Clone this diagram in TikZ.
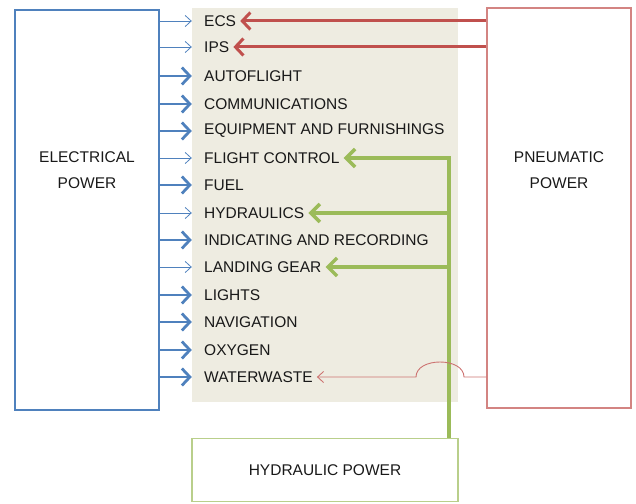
\documentclass[tikz,border=0pt]{standalone}
\usepackage{fontspec}
\setmainfont{Liberation Sans}
\usetikzlibrary{arrows.meta,calc}

\definecolor{elecblue}{HTML}{4F81BD}
\definecolor{pneured}{HTML}{C0504D}
\definecolor{hydgreen}{HTML}{9BBB59}
\definecolor{panelfill}{HTML}{EEECE1}

\begin{document}
\begin{tikzpicture}[x=1pt, y=-1pt,
    item/.style={anchor=west, inner xsep=4pt, inner ysep=2pt, text=black!90,
        font=\fontsize{15.5}{17}\selectfont},
    power/.style={align=center, text=black!90, font=\fontsize{15.5}{26}\selectfont},
    thinfeed/.style={draw=elecblue, line width=0.8pt, -{Straight Barb[length=6pt,width=11pt]}},
    thickfeed/.style={draw=elecblue, line width=2.8pt, -{Straight Barb[length=8pt,width=17pt]}},
    airfeed/.style={draw=pneured, line width=3pt, -{Straight Barb[length=8pt,width=17pt]}},
    thinair/.style={draw=pneured!80, line width=0.9pt, -{Straight Barb[length=6pt,width=11pt]}},
    hydfeed/.style={draw=hydgreen, line width=3.5pt, -{Straight Barb[length=9pt,width=18pt]}}
]

    \useasboundingbox (0,0) rectangle (636,503);

    % Power source boxes
    \node[draw=elecblue, line width=1.3pt, minimum width=144pt, minimum height=400pt] (elec) at (87,210) {};
    \node[draw=pneured!70, line width=1.3pt, minimum width=144pt, minimum height=400pt] (pneu) at (559,208) {};
    \node[power] (elecname) at (87,170) {ELECTRICAL\\POWER};
    \node[power] (pneuname) at (559,170) {PNEUMATIC\\POWER};

    % Background panel behind the system list
    \node[fill=panelfill, minimum width=266pt, minimum height=394pt, inner sep=0pt] (panel) at (325,205) {};

    \node[draw=hydgreen!70, line width=1.3pt, minimum width=266pt, minimum height=63pt, power] (hyd) at (325,470) {HYDRAULIC POWER};

    % Aircraft systems
    \node[item] (ecs) at (200,21) {ECS};
    \node[item] (ips) at (200,47) {IPS};
    \node[item] (auto) at (200,76) {AUTOFLIGHT};
    \node[item] (comm) at (200,104) {COMMUNICATIONS};
    \node[item] (equip) at (200,131) {EQUIPMENT AND FURNISHINGS};
    \node[item] (flight) at (200,158) {FLIGHT CONTROL};
    \node[item] (fuel) at (200,185) {FUEL};
    \node[item] (hydr) at (200,213) {HYDRAULICS};
    \node[item] (indic) at (200,240) {INDICATING AND RECORDING};
    \node[item] (gear) at (200,267) {LANDING GEAR};
    \node[item] (lights) at (200,295) {LIGHTS};
    \node[item] (nav) at (200,322) {NAVIGATION};
    \node[item] (oxy) at (200,350) {OXYGEN};
    \node[item] (water) at (200,377) {WATERWASTE};

    % Electrical feeds
    \draw[thinfeed] (elec.east |- ecs) -- (panel.west |- ecs);
    \draw[thinfeed] (elec.east |- ips) -- (panel.west |- ips);
    \draw[thickfeed] (elec.east |- auto) -- (panel.west |- auto);
    \draw[thickfeed] (elec.east |- comm) -- (panel.west |- comm);
    \draw[thickfeed] (elec.east |- equip) -- (panel.west |- equip);
    \draw[thinfeed] (elec.east |- flight) -- (panel.west |- flight);
    \draw[thickfeed] (elec.east |- fuel) -- (panel.west |- fuel);
    \draw[thinfeed] (elec.east |- hydr) -- (panel.west |- hydr);
    \draw[thickfeed] (elec.east |- indic) -- (panel.west |- indic);
    \draw[thinfeed] (elec.east |- gear) -- (panel.west |- gear);
    \draw[thickfeed] (elec.east |- lights) -- (panel.west |- lights);
    \draw[thickfeed] (elec.east |- nav) -- (panel.west |- nav);
    \draw[thickfeed] (elec.east |- oxy) -- (panel.west |- oxy);
    \draw[thickfeed] (elec.east |- water) -- (panel.west |- water);

    % Hydraulic feeds (one trunk, three branches)
    \coordinate (gtop) at (449,158);
    \draw[hydfeed] (hyd.north -| gtop) |- (flight.east);
    \draw[hydfeed] (gtop |- hydr) -- (hydr.east);
    \draw[hydfeed] (gtop |- gear) -- (gear.east);

    % Pneumatic feeds
    \draw[airfeed] (pneu.west |- ecs) -- (ecs.east);
    \draw[airfeed] (pneu.west |- ips) -- (ips.east);
    \draw[thinair] (pneu.west |- water) -- ($(gtop |- water)+(15,0)$)
        .. controls +(0,-20) and +(0,-20) .. ($(gtop |- water)+(-33,0)$) -- (water.east);

\end{tikzpicture}
\end{document}
